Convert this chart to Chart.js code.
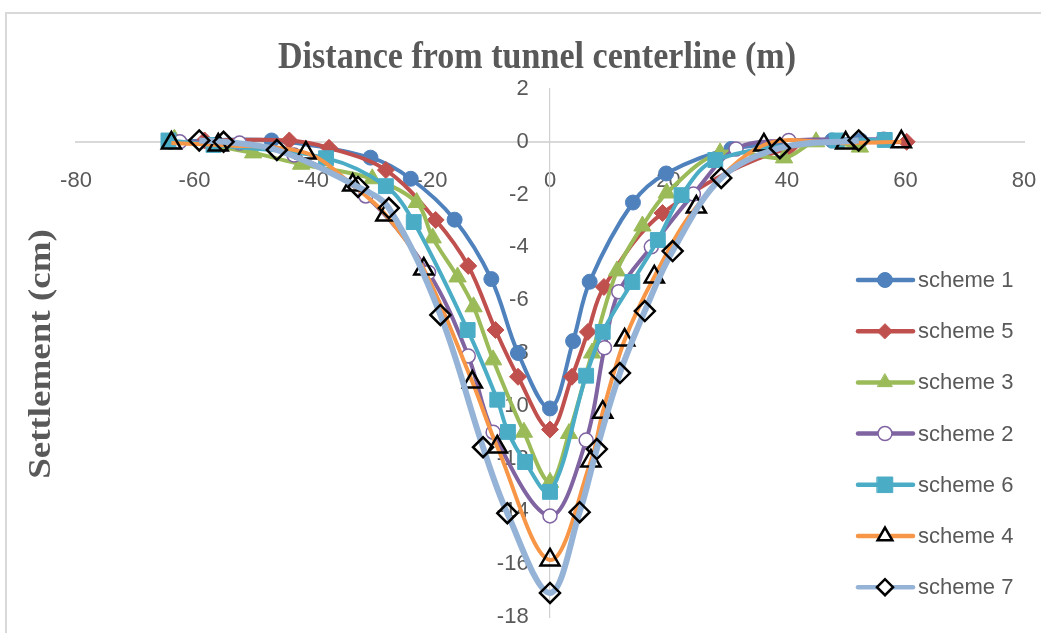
<!DOCTYPE html>
<html>
<head>
<meta charset="utf-8">
<title>Settlement vs distance from tunnel centerline</title>
<script src="https://cdn.jsdelivr.net/npm/chart.js@4.4.1/dist/chart.umd.min.js"></script>
<style>
  html, body { margin: 0; padding: 0; background: #fff; }
  #wrap { position: relative; width: 1041px; height: 633px; }
</style>
</head>
<body>
<div id="wrap"><canvas id="chart" width="1041" height="633"></canvas></div>
<script>
// axis ranges / ticks
const xRange = [-80, 80];
const xStep = 20;
const yRange = [-18, 2];
const yStep = 2;

const xTitle = 'Distance from tunnel centerline (m)';
const yTitle = 'Settlement (cm)';

// values (distance in m, settlement in cm)
const scheme1X = [-64, -47, -30.3, -23.5, -16.1, -9.9, -5.4, 0, 3.9, 6.7, 14.0, 19.6, 30.6, 47.6, 52.4];
const scheme1Y = [0, 0.05, -0.6, -1.4, -2.95, -5.2, -8.0, -10.1, -7.55, -5.3, -2.3, -1.2, -0.27, 0.05, 0.05];

const scheme5X = [-58.3, -44.0, -37.3, -27.7, -19.3, -13.8, -9.2, -5.4, 0, 3.7, 6.4, 9.1, 19.0, 40.3, 60.2];
const scheme5Y = [0.05, 0.05, -0.23, -1.07, -2.96, -4.7, -7.13, -8.9, -10.9, -8.9, -7.2, -5.5, -2.7, -0.24, 0];

const scheme3X = [-63.4, -50.1, -42.0, -30.0, -22.5, -19.8, -15.6, -12.9, -9.6, -4.4, 0, 3.2, 7.1, 11.3, 15.6, 19.7, 28.7, 39.5, 44.9, 52.3];
const scheme3Y = [0.1, -0.42, -0.85, -1.4, -2.3, -3.64, -5.12, -6.25, -8.26, -11.0, -12.9, -11.05, -8.0, -4.89, -3.19, -1.94, -0.42, -0.61, 0, -0.2];

const scheme2X = [-62.5, -52.4, -43.2, -31.1, -20.5, -13.8, -9.6, 0, 6.1, 9.2, 11.6, 17.1, 24.2, 31.4, 40.3, 56.3];
const scheme2Y = [0, -0.05, -0.5, -2.05, -4.95, -8.11, -11.0, -14.17, -11.3, -7.8, -5.68, -3.98, -1.98, -0.27, 0.05, 0.1];

const scheme6X = [-64.4, -56.8, -37.8, -27.7, -23.0, -13.9, -8.9, -7.1, -4.2, 0, 6.1, 8.9, 13.9, 18.2, 22.2, 27.9, 48.4, 56.5];
const scheme6Y = [0.05, -0.12, -0.62, -1.68, -3.04, -7.13, -9.77, -10.99, -12.13, -13.26, -8.86, -7.2, -5.31, -3.72, -2.02, -0.69, 0.05, 0.07];

const scheme4X = [-63.9, -56.0, -41.2, -33.3, -27.7, -21.3, -13.1, -8.9, 0, 6.9, 8.9, 12.6, 17.6, 24.7, 36.1, 49.9, 59.3];
const scheme4Y = [-0.05, -0.12, -0.42, -1.64, -2.77, -4.82, -9.1, -11.56, -15.84, -12.09, -10.24, -7.51, -5.12, -2.47, -0.12, -0.05, 0];

const scheme7X = [-59.2, -55.1, -46.1, -32.4, -27.2, -18.5, -11.3, -7.2, 0, 5.0, 7.9, 11.8, 16.0, 20.7, 28.9, 38.8, 52.1];
const scheme7Y = [0.05, 0, -0.31, -1.71, -2.51, -6.56, -11.57, -14.07, -17.09, -14.03, -11.64, -8.76, -6.41, -4.14, -1.37, -0.24, 0.05];

const toPoints = (xs, ys) => xs.map((x, i) => ({ x: x, y: ys[i] }));

const greyText = '#595959';
const sansFont = '"Liberation Sans", Arial, sans-serif';
const serifFont = '"Liberation Serif", "Times New Roman", serif';

// series in legend order; later ones drawn on top like Excel
const series = [
  { label: 'scheme 1', pts: toPoints(scheme1X, scheme1Y), color: '#4f81bd', style: 'circle', r: 7.5, fill: '#4f81bd', edge: '#4f81bd', edgeW: 1, lr: 7.5 },
  { label: 'scheme 5', pts: toPoints(scheme5X, scheme5Y), color: '#c0504d', style: 'rectRot', r: 8.5, fill: '#c0504d', edge: '#c0504d', edgeW: 1, lr: 7.5 },
  { label: 'scheme 3', pts: toPoints(scheme3X, scheme3Y), color: '#9bbb59', style: 'triangle', r: 10, fill: '#9bbb59', edge: '#9bbb59', edgeW: 1, lr: 8.5 },
  { label: 'scheme 2', pts: toPoints(scheme2X, scheme2Y), color: '#8064a2', style: 'circle', r: 7, fill: '#ffffff', edge: '#8064a2', edgeW: 1.5, lr: 7 },
  { label: 'scheme 6', pts: toPoints(scheme6X, scheme6Y), color: '#4bacc6', style: 'rect', r: 10.5, fill: '#4bacc6', edge: '#4bacc6', edgeW: 1, lr: 11 },
  { label: 'scheme 4', pts: toPoints(scheme4X, scheme4Y), color: '#f79646', style: 'triangle', r: 11, fill: 'rgba(0,0,0,0)', edge: '#000000', edgeW: 2.5, lr: 8.5 },
  { label: 'scheme 7', pts: toPoints(scheme7X, scheme7Y), color: '#95b3d7', style: 'rectRot', r: 10, fill: 'rgba(0,0,0,0)', edge: '#000000', edgeW: 2.5, lr: 8, lineW: 6 }
];

const datasets = series.map((s, i) => ({
  label: s.label,
  data: s.pts,
  yAxisID: 'y',
  borderColor: s.color,
  backgroundColor: s.color,
  borderWidth: s.lineW || 4,
  tension: 0.35,
  pointStyle: s.style,
  pointRadius: s.r,
  pointBackgroundColor: s.fill,
  pointBorderColor: s.edge,
  pointBorderWidth: s.edgeW,
  legendRadius: s.lr,
  order: series.length - i
}));

// marker drawing for the hand-placed legend
function drawMarker(ctx, style, x, y, r, fill, edge, edgeW) {
  ctx.save();
  ctx.beginPath();
  if (style === 'circle') {
    ctx.arc(x, y, r, 0, Math.PI * 2);
  } else if (style === 'rectRot') {
    ctx.moveTo(x - r, y); ctx.lineTo(x, y - r); ctx.lineTo(x + r, y); ctx.lineTo(x, y + r);
  } else if (style === 'rect') {
    const h = r * Math.SQRT1_2;
    ctx.rect(x - h, y - h, 2 * h, 2 * h);
  } else if (style === 'triangle') {
    for (let k = 0; k < 3; k++) {
      const a = k * 2 * Math.PI / 3;
      const px = x + Math.sin(a) * r, py = y - Math.cos(a) * r;
      if (k === 0) ctx.moveTo(px, py); else ctx.lineTo(px, py);
    }
  }
  ctx.closePath();
  ctx.fillStyle = fill;
  ctx.fill();
  ctx.lineWidth = edgeW;
  ctx.strokeStyle = edge;
  ctx.stroke();
  ctx.restore();
}

// scales sit in the middle of the plot, so they should not push the plot area in
const noOverhang = (scale) => {
  scale.paddingLeft = 0;
  scale.paddingRight = 0;
  scale.paddingTop = 0;
  scale.paddingBottom = 0;
};

const decorPlugin = {
  id: 'decor',
  beforeDraw(chart) {
    const ctx = chart.ctx;
    ctx.save();
    ctx.strokeStyle = '#d9d9d9';
    ctx.lineWidth = 2;
    ctx.beginPath();
    ctx.moveTo(6, 633);
    ctx.lineTo(6, 13);
    ctx.lineTo(1041, 13);
    ctx.stroke();
    ctx.restore();
  },
  afterDraw(chart) {
    const ctx = chart.ctx;

    // top title (squeezed like the picture)
    ctx.save();
    ctx.font = 'bold 38px ' + serifFont;
    ctx.fillStyle = greyText;
    ctx.textAlign = 'center';
    ctx.textBaseline = 'middle';
    const w = ctx.measureText(xTitle).width;
    ctx.translate(537, 58);
    ctx.scale(518 / w, 1);
    ctx.fillText(xTitle, 0, 0);
    ctx.restore();

    // left title
    ctx.save();
    ctx.font = 'bold 37px ' + serifFont;
    ctx.fillStyle = greyText;
    ctx.textAlign = 'center';
    ctx.textBaseline = 'middle';
    ctx.translate(42, 354);
    ctx.scale(0.83, 1);
    ctx.rotate(-Math.PI / 2);
    ctx.fillText(yTitle, 0, 0);
    ctx.restore();

    // legend
    ctx.save();
    ctx.font = '22px ' + sansFont;
    ctx.textAlign = 'left';
    ctx.textBaseline = 'middle';
    chart.data.datasets.forEach((ds, i) => {
      const y = 280 + i * 51.2;
      ctx.strokeStyle = ds.borderColor;
      ctx.lineWidth = 4.5;
      ctx.lineCap = 'round';
      ctx.beginPath();
      ctx.moveTo(858, y);
      ctx.lineTo(913, y);
      ctx.stroke();
      drawMarker(ctx, ds.pointStyle, 885, y, ds.legendRadius,
        ds.pointBackgroundColor === 'rgba(0,0,0,0)' ? '#ffffff' : ds.pointBackgroundColor,
        ds.pointBorderColor, ds.pointBorderWidth);
      ctx.fillStyle = greyText;
      ctx.fillText(ds.label, 918, y + 1);
    });
    ctx.restore();
  }
};

new Chart(document.getElementById('chart'), {
  type: 'line',
  data: { datasets: datasets },
  options: {
    responsive: false,
    animation: false,
    layout: { padding: { left: 76, right: 17, top: 89, bottom: 16 } },
    plugins: {
      legend: { display: false },
      tooltip: { enabled: false },
      title: { display: false }
    },
    scales: {
      x: {
        type: 'linear',
        min: xRange[0],
        max: xRange[1],
        position: { y: 0 },
        afterFit: noOverhang,
        ticks: {
          stepSize: xStep,
          autoSkip: false,
          maxRotation: 0,
          padding: 26,
          color: greyText,
          font: { family: sansFont, size: 22 }
        },
        grid: { display: false, drawTicks: false },
        border: { display: true, color: '#d9d9d9', width: 2 }
      },
      // vertical axis line through x = 0
      y: {
        type: 'linear',
        min: yRange[0],
        max: yRange[1],
        position: { x: 0 },
        afterFit: noOverhang,
        ticks: { display: false, stepSize: yStep },
        grid: { display: false, drawTicks: false },
        border: { display: true, color: '#d0d0d0', width: 1.2 }
      },
      // tick labels of the vertical axis, set a little left of x = 0
      yLabels: {
        type: 'linear',
        axis: 'y',
        min: yRange[0],
        max: yRange[1],
        position: { x: -3.6 },
        afterFit: noOverhang,
        ticks: {
          stepSize: yStep,
          autoSkip: false,
          color: greyText,
          font: { family: sansFont, size: 22 }
        },
        grid: { display: false, drawTicks: false },
        border: { display: false }
      }
    }
  },
  plugins: [decorPlugin]
});
</script>
</body>
</html>
